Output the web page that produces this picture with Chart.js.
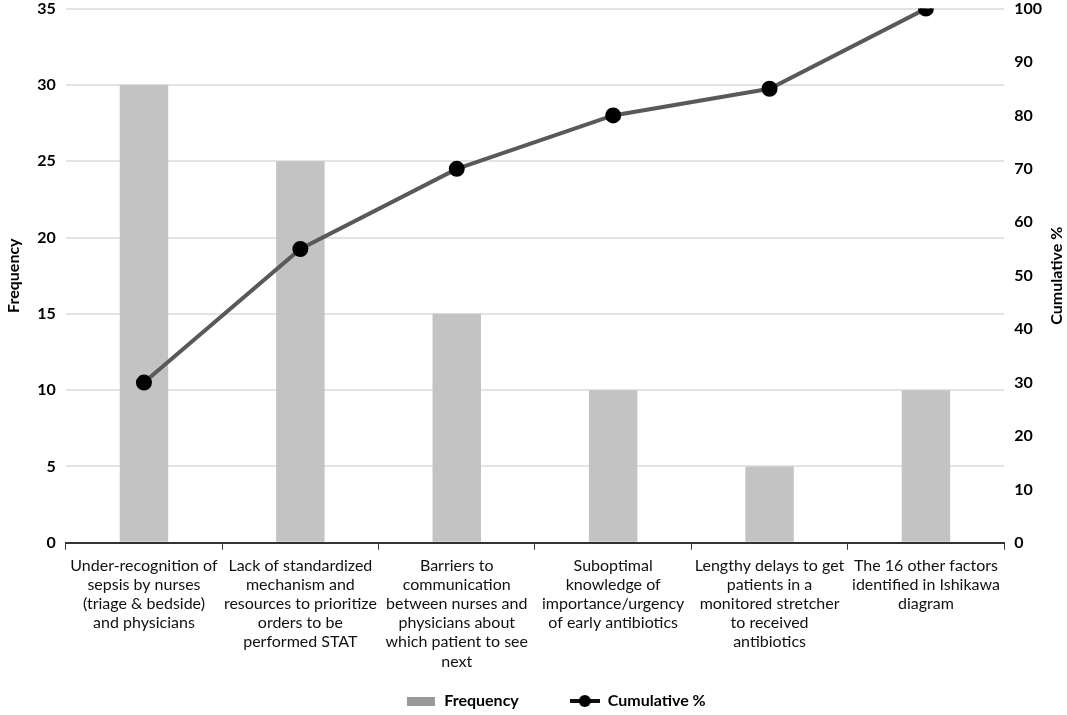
<!DOCTYPE html>
<html>
<head>
<meta charset="utf-8">
<script src="https://cdn.jsdelivr.net/npm/chart.js@4"></script>
<style>
  html, body { margin: 0; padding: 0; background: #fff; overflow: hidden; }
  #wrap { width: 1067px; height: 730px; margin-top: -11px; }
</style>
</head>
<body>
<div id="wrap"><canvas id="paretoChart"></canvas></div>
<script>
const categories = [
  ['Under-recognition of', 'sepsis by nurses', '(triage & bedside)', 'and physicians'],
  ['Lack of standardized', 'mechanism and', 'resources to prioritize', 'orders to be', 'performed STAT'],
  ['Barriers to', 'communication', 'between nurses and', 'physicians about', 'which patient to see', 'next'],
  ['Suboptimal', 'knowledge of', 'importance/urgency', 'of early antibiotics'],
  ['Lengthy delays to get', 'patients in a', 'monitored stretcher', 'to received', 'antibiotics'],
  ['The 16 other factors', 'identified in Ishikawa', 'diagram']
];
const frequency = [30, 25, 15, 10, 5, 10];
const cumulative = [30, 55, 70, 80, 85, 100];

const FONT = 'Lato, "Open Sans", sans-serif';

// little canvases for the legend symbols
function boxIcon() {
  const c = document.createElement('canvas');
  c.width = 28; c.height = 12;
  const g = c.getContext('2d');
  g.fillStyle = '#999';
  g.fillRect(0, 2, 28, 9);
  return c;
}
function lineIcon() {
  const c = document.createElement('canvas');
  c.width = 30; c.height = 14;
  const g = c.getContext('2d');
  g.strokeStyle = '#111';
  g.lineWidth = 4;
  g.beginPath(); g.moveTo(0, 7); g.lineTo(30, 7); g.stroke();
  g.fillStyle = '#000';
  g.beginPath(); g.arc(15, 7, 6, 0, Math.PI * 2); g.fill();
  return c;
}

// right axis title reads bottom-to-top like the left one
const rightTitle = {
  id: 'rightTitle',
  afterDraw(ch) {
    const g = ch.ctx;
    const area = ch.chartArea;
    g.save();
    g.translate(1057, (area.top + area.bottom) / 2);
    g.rotate(-Math.PI / 2);
    g.fillStyle = '#000';
    g.font = 'bold 16px ' + FONT;
    g.textAlign = 'center';
    g.textBaseline = 'middle';
    g.fillText('Cumulative %', 0, 0);
    g.restore();
  }
};

// legend sits a bit right of centre in the original
const legendShift = {
  id: 'legendShift',
  afterLayout(ch) {
    ch.legend.left += 29;
    ch.legend.right += 29;
  }
};

chart = new Chart(document.getElementById('paretoChart'), {
  data: {
    labels: categories,
    datasets: [
      {
        type: 'line',
        label: 'Cumulative %',
        data: cumulative,
        yAxisID: 'y1',
        borderColor: '#595959',
        borderWidth: 4,
        pointRadius: 6,
        pointBackgroundColor: '#000',
        pointBorderColor: '#000',
        tension: 0,
        order: 0
      },
      {
        type: 'bar',
        label: 'Frequency',
        data: frequency,
        yAxisID: 'y',
        backgroundColor: '#c3c3c3',
        categoryPercentage: 1,
        barPercentage: 0.31,
        order: 1
      }
    ]
  },
  plugins: [rightTitle, legendShift],
  options: {
    responsive: true,
    maintainAspectRatio: false,
    animation: false,
    layout: { padding: { top: 0, left: 2, right: 15, bottom: 0 } },
    plugins: {
      tooltip: { enabled: false },
      legend: {
        position: 'bottom',
        labels: {
          usePointStyle: true,
          pointStyleWidth: 30,
          boxHeight: 14,
          padding: 16,
          color: '#000',
          font: { family: FONT, size: 16, weight: 'bold' },
          generateLabels: ch => [
            { text: 'Frequency         ', pointStyle: boxIcon(), datasetIndex: 1, fontColor: '#000' },
            { text: 'Cumulative %', pointStyle: lineIcon(), datasetIndex: 0, fontColor: '#000' }
          ]
        }
      }
    },
    scales: {
      x: {
        offset: true,
        grid: { display: true, drawOnChartArea: false, color: '#333', tickLength: 7, offset: true },
        border: { display: true, color: '#333', width: 2 },
        ticks: {
          color: '#111',
          maxRotation: 0,
          autoSkip: false,
          padding: 6,
          font: { family: FONT, size: 16, lineHeight: 1.2 }
        }
      },
      y: {
        position: 'left',
        min: 0, max: 35,
        ticks: { stepSize: 5, color: '#000', padding: 10, font: { family: FONT, size: 16, weight: 'bold' } },
        grid: { color: '#e3e3e3', lineWidth: 2, drawTicks: false },
        border: { display: false },
        title: { display: true, text: 'Frequency', color: '#000', padding: { top: 2, bottom: 4 }, font: { family: FONT, size: 16, weight: 'bold' } }
      },
      y1: {
        position: 'right',
        min: 0, max: 100,
        ticks: { stepSize: 10, color: '#000', padding: 10, font: { family: FONT, size: 16, weight: 'bold' } },
        grid: { display: false, drawTicks: false },
        border: { display: false }
      }
    }
  }
});
</script>
</body>
</html>
